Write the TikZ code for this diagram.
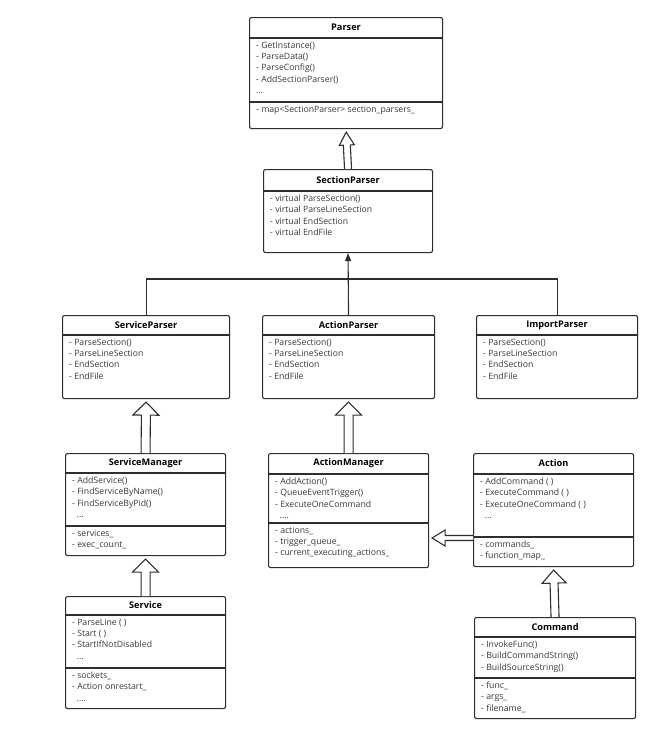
\documentclass[tikz,border=0pt]{standalone}
\usepackage{fontspec}
\setmainfont{Open Sans}
\usetikzlibrary{calc,arrows.meta}
\definecolor{boxline}{HTML}{2E2E2E}
\definecolor{boxtext}{HTML}{3A3A3A}
\tikzset{
 classframe/.style={draw=boxline, line width=1.1pt, rounded corners=2pt, fill=white, inner sep=0pt},
 classline/.style={draw=boxline, line width=1.1pt},
 classtitle/.style={font=\fontsize{9.2}{10}\selectfont\bfseries, text=black, inner sep=0pt},
 classtext/.style={font=\fontsize{8.7}{11.4}\selectfont, text=boxtext, align=left, inner sep=0pt, anchor=north west}
}
\pgfkeys{
 /classBox/.is family, /classBox,
 name/.store in = \cbName,
 w/.store in = \cbW,
 th/.store in = \cbTH,
 mh/.store in = \cbMH,
 ah/.store in = \cbAH,
 title/.store in = \cbTitle,
 methods/.store in = \cbMethods,
 attrs/.store in = \cbAttrs,
 default/.style =
  {name=box, w=160, th=20, mh=50, ah=0, title={}, methods={}, attrs={}}
}
\newcommand{\classBox}[2][]{
    \pgfkeys{/classBox, default, #1}%
    \pgfmathsetmacro{\cbH}{\cbTH+\cbMH+\cbAH}%
    \node[classframe, minimum width=\cbW pt, minimum height=\cbH pt, anchor=north west] (\cbName) at #2 {};
    \coordinate (\cbName_m) at ($(\cbName.north west)+(0,\cbTH)$);
    \coordinate (\cbName_a) at ($(\cbName_m)+(0,\cbMH)$);
    \node[classtitle] (\cbName_title) at ($(\cbName.north)+(0,\cbTH/2)$) {\cbTitle};
    \draw[classline] (\cbName_m) -- ++(\cbW,0);
    \node[classtext] (\cbName_methods) at ($(\cbName_m)+(7,3.5)$) {\cbMethods};
    \ifx\cbAttrs\empty\else
      \draw[classline] (\cbName_a) -- ++(\cbW,0);
      \node[classtext] (\cbName_attrs) at ($(\cbName_a)+(7,3.5)$) {\cbAttrs};
    \fi
}
% hollow inheritance arrow: shaft, head, child, parent
\newcommand{\inheritArrow}[4]{
    \coordinate (ia_tip) at ($(#4)!3pt!(#3)$);
    \coordinate (ia_neck) at ($(ia_tip)!13pt!(#3)$);
    \draw[classline, fill=white] ($(#3)!#1!90:(ia_tip)$) -- ($(ia_neck)!#1!90:(ia_tip)$)
      -- ($(ia_neck)!#2!90:(ia_tip)$) -- (ia_tip) -- ($(ia_neck)!#2!-90:(ia_tip)$)
      -- ($(ia_neck)!#1!-90:(ia_tip)$) -- ($(#3)!#1!-90:(ia_tip)$);
}

\begin{document}
\begin{tikzpicture}[x=1pt, y=-1pt]
    \fill[white] (0,0) rectangle (650,729);
    \useasboundingbox (0,0) rectangle (650,729);
    \classBox[name=parser, w=193, th=21, mh=64, ah=26, title=Parser,
      methods={- GetInstance()\\- ParseData()\\- ParseConfig()\\- AddSectionParser()\\...},
      attrs={- map<SectionParser> section\_parsers\_}]{(249,17)}
    \classBox[name=sectionParser, w=169, th=22, mh=61, title=SectionParser,
      methods={- virtual ParseSection()\\- virtual ParseLineSection\\- virtual EndSection\\- virtual EndFile}]{(263,169)}
    \classBox[name=serviceParser, w=167, mh=63, title=ServiceParser,
      methods={- ParseSection()\\- ParseLineSection\\- EndSection\\- EndFile}]{(62,315)}
    \classBox[name=actionParser, w=172, mh=63, title=ActionParser,
      methods={- ParseSection()\\- ParseLineSection\\- EndSection\\- EndFile}]{(262,315)}
    \classBox[name=importParser, w=161, mh=63, title=ImportParser,
      methods={- ParseSection()\\- ParseLineSection\\- EndSection\\- EndFile}]{(476,315)}
    \classBox[name=serviceManager, w=160, mh=53, ah=29, title=ServiceManager,
      methods={- AddService()\\- FindServiceByName()\\- FindServiceByPid()\\\ \ ...},
      attrs={- services\_\\- exec\_count\_}]{(65,453)}
    \classBox[name=actionManager, w=160, th=21, mh=49, ah=44, title=ActionManager,
      methods={- AddAction()\\- QueueEventTrigger()\\- ExecuteOneCommand\\\ \ ....},
      attrs={- actions\_\\- trigger\_queue\_\\- current\_executing\_actions\_}]{(268,453)}
    \classBox[name=action, w=160, th=21, mh=63, ah=29, title=Action,
      methods={- AddCommand ( )\\- ExecuteCommand ( )\\- ExecuteOneCommand ( )\\\ \ ...},
      attrs={- commands\_\\- function\_map\_}]{(473,453)}
    \classBox[name=service, w=160, th=19, mh=53, ah=40, title=Service,
      methods={- ParseLine ( )\\- Start ( )\\- StartIfNotDisabled\\\ \ ...},
      attrs={- sockets\_\\- Action onrestart\_\\\ \ ....}]{(65,596)}
    \classBox[name=command, w=161, mh=41, ah=40, title=Command,
      methods={- InvokeFunc()\\- BuildCommandString()\\- BuildSourceString()},
      attrs={- func\_\\- args\_\\- filename\_}]{(474,617)}

    \coordinate (hub) at (0,279);
    \draw[classline] (serviceParser.north) |- (hub -| importParser.north) -- (importParser.north);
    \draw[classline, -{Triangle[length=8pt, width=6pt]}] (actionParser.north) -- (sectionParser.south);

    \inheritArrow{3.5pt}{7.5pt}{sectionParser.north}{parser.south}
    \inheritArrow{4.5pt}{13pt}{serviceManager.north}{serviceParser.south}
    \inheritArrow{4.5pt}{13pt}{actionManager.north}{actionParser.south}
    \inheritArrow{4.5pt}{13pt}{service.north}{serviceManager.south}
    \inheritArrow{4pt}{12pt}{command.north}{action.south}
    \coordinate (actionLink) at ($(action.north west)+(0,85)$);
    \inheritArrow{2.5pt}{8pt}{actionLink}{actionManager.east |- actionLink}
\end{tikzpicture}
\end{document}
